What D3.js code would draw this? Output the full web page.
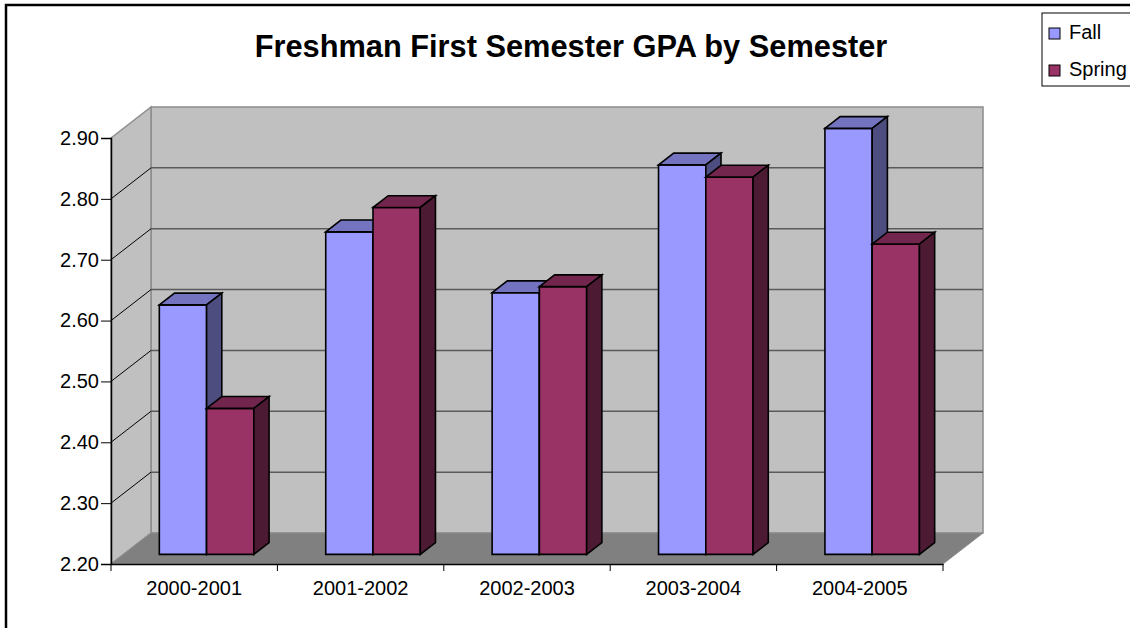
<!DOCTYPE html>
<html>
<head>
<meta charset="utf-8">
<script src="https://cdn.jsdelivr.net/npm/d3@7/dist/d3.min.js"></script>
<style>
	html, body { margin: 0; padding: 0; background: #fff; overflow: hidden; }
	text { font-family: "Liberation Sans", Arial, sans-serif; fill: #000; }
</style>
</head>
<body>
<svg id="chart" width="1130" height="628"></svg>
<script>
var categories = ["2000-2001", "2001-2002", "2002-2003", "2003-2004", "2004-2005"];
var seriesNames = ["Fall", "Spring"];
var fallValues = [2.61, 2.73, 2.63, 2.84, 2.90];
var springValues = [2.44, 2.77, 2.64, 2.82, 2.71];
var tickValues = [2.20, 2.30, 2.40, 2.50, 2.60, 2.70, 2.80, 2.90];
var chartTitle = "Freshman First Semester GPA by Semester";

var colors = {
	Fall: {front: "#9999ff", top: "#7373bf", side: "#4d4d80"},
	Spring: {front: "#993366", top: "#73264d", side: "#4d1a33"}
};

//  plot geometry (front plane) and depth of the 3d box
var plot = {left: 111, right: 943, top: 138, bottom: 564},
	depth = {dx: 40, dy: -31},
	barPlane = {front: 0.31, back: 0.69};

var svg = d3.select("#chart");

var x = d3.scaleBand()
	.domain(categories)
	.range([plot.left, plot.right]);
var xInner = d3.scaleBand()
	.domain(seriesNames)
	.range([0, x.bandwidth()])
	.paddingInner(0)
	.paddingOuter(0.76);
var y = d3.scaleLinear()
	.domain([tickValues[0], tickValues[tickValues.length - 1]])
	.range([plot.bottom, plot.top]);

function pts(arr) {
	return arr.map(function(p) { return p[0] + "," + p[1]; }).join(" ");
}

//  outer chart border
svg.append("rect")
	.attr("x", 6).attr("y", 5)
	.attr("width", 1300).attr("height", 800)
	.attr("fill", "none")
	.attr("stroke", "#000")
	.attr("stroke-width", 2.5);

//  walls and floor
var yMin = y(tickValues[0]), yMax = y(tickValues[tickValues.length - 1]);
svg.append("polygon")
	.attr("points", pts([
		[plot.left + depth.dx, yMax + depth.dy], [plot.right + depth.dx, yMax + depth.dy],
		[plot.right + depth.dx, yMin + depth.dy], [plot.left + depth.dx, yMin + depth.dy]]))
	.attr("fill", "#c0c0c0")
	.attr("stroke", "#8c8c8c")
	.attr("stroke-width", 1.5);
svg.append("polygon")
	.attr("points", pts([
		[plot.left, yMax], [plot.left + depth.dx, yMax + depth.dy],
		[plot.left + depth.dx, yMin + depth.dy], [plot.left, yMin]]))
	.attr("fill", "#c0c0c0")
	.attr("stroke", "#8c8c8c")
	.attr("stroke-width", 1.5);
svg.append("polygon")
	.attr("points", pts([
		[plot.left, yMin], [plot.left + depth.dx, yMin + depth.dy],
		[plot.right + depth.dx, yMin + depth.dy], [plot.right, yMin]]))
	.attr("fill", "#808080")
	.attr("stroke", "#8c8c8c")
	.attr("stroke-width", 1);

//  gridlines on back wall and side wall
var inner = tickValues.slice(1, tickValues.length - 1);
svg.selectAll(".grid-back")
	.data(inner)
	.enter().append("line")
	.attr("class", "grid-back")
	.attr("x1", plot.left + depth.dx).attr("x2", plot.right + depth.dx)
	.attr("y1", function(d) { return y(d) + depth.dy; })
	.attr("y2", function(d) { return y(d) + depth.dy; })
	.attr("stroke", "#5a5a5a")
	.attr("stroke-width", 1.5);
svg.selectAll(".grid-side")
	.data(inner)
	.enter().append("line")
	.attr("class", "grid-side")
	.attr("x1", plot.left).attr("x2", plot.left + depth.dx)
	.attr("y1", function(d) { return y(d); })
	.attr("y2", function(d) { return y(d) + depth.dy; })
	.attr("stroke", "#000")
	.attr("stroke-width", 1);

//  bars
var rows = categories.map(function(c, i) {
	return {cat: c, values: [
		{name: "Fall", value: fallValues[i]},
		{name: "Spring", value: springValues[i]}]};
});
var ox = barPlane.front * depth.dx, oy = barPlane.front * depth.dy,
	bdx = (barPlane.back - barPlane.front) * depth.dx,
	bdy = (barPlane.back - barPlane.front) * depth.dy;

rows.forEach(function(row) {
	row.values.forEach(function(d) {
		var x0 = x(row.cat) + xInner(d.name) + ox,
			x1 = x0 + xInner.bandwidth(),
			yt = y(d.value) + oy,
			yb = y(tickValues[0]) + oy,
			c = colors[d.name];
		var g = svg.append("g").attr("class", "bar");
		g.append("polygon")
			.attr("points", pts([[x0, yt], [x1, yt], [x1, yb], [x0, yb]]))
			.attr("fill", c.front);
		g.append("polygon")
			.attr("points", pts([[x0, yt], [x0 + bdx, yt + bdy], [x1 + bdx, yt + bdy], [x1, yt]]))
			.attr("fill", c.top);
		g.append("polygon")
			.attr("points", pts([[x1, yt], [x1 + bdx, yt + bdy], [x1 + bdx, yb + bdy], [x1, yb]]))
			.attr("fill", c.side);
		g.selectAll("polygon")
			.attr("stroke", "#000")
			.attr("stroke-width", 1.6)
			.attr("stroke-linejoin", "miter");
	});
});

//  axes
var yAxis = svg.append("g")
	.attr("transform", "translate(" + plot.left + ",0)")
	.call(d3.axisLeft(y).tickValues(tickValues).tickFormat(d3.format(".2f")).tickSize(10).tickPadding(2));
yAxis.select(".domain").attr("stroke", "#000").attr("stroke-width", 1.5);
yAxis.selectAll(".tick line").attr("stroke", "#000");
yAxis.selectAll("text")
	.attr("font-size", 20)
	.attr("font-family", "Liberation Sans, Arial, sans-serif")
	.attr("fill", "#000");

var xAxis = svg.append("g")
	.attr("transform", "translate(0," + plot.bottom + ")")
	.call(d3.axisBottom(x).tickSize(0).tickPadding(17));
xAxis.select(".domain").attr("stroke", "#000").attr("stroke-width", 1.5);
xAxis.selectAll("text")
	.attr("font-size", 20)
	.attr("font-family", "Liberation Sans, Arial, sans-serif")
	.attr("fill", "#000");
//  category separator ticks
svg.selectAll(".cat-tick")
	.data(categories.concat(["end"]))
	.enter().append("line")
	.attr("class", "cat-tick")
	.attr("x1", function(d, i) { return plot.left + i * x.step(); })
	.attr("x2", function(d, i) { return plot.left + i * x.step(); })
	.attr("y1", plot.bottom).attr("y2", plot.bottom + 7)
	.attr("stroke", "#000")
	.attr("stroke-width", 1);

//  title, fitted to the reference width
var title = svg.append("text")
	.attr("x", 571).attr("y", 57)
	.attr("text-anchor", "middle")
	.attr("font-weight", "bold")
	.attr("font-size", 28)
	.text(chartTitle);
var tw = title.node().getComputedTextLength();
title.attr("font-size", 28 * 633 / tw);

//  legend
var legend = svg.append("g").attr("transform", "translate(1042,13)");
legend.append("rect")
	.attr("width", 120).attr("height", 73)
	.attr("fill", "#fff")
	.attr("stroke", "#000")
	.attr("stroke-width", 1);
var items = legend.selectAll(".legend-item")
	.data(seriesNames)
	.enter().append("g")
	.attr("class", "legend-item")
	.attr("transform", function(d, i) { return "translate(7," + (15 + i * 37) + ")"; });
items.append("rect")
	.attr("width", 11).attr("height", 11)
	.attr("fill", function(d) { return colors[d].front; })
	.attr("stroke", "#000")
	.attr("stroke-width", 1);
items.append("text")
	.attr("x", 20).attr("y", 11)
	.attr("font-size", 20)
	.text(function(d) { return d; });
</script>
</body>
</html>
